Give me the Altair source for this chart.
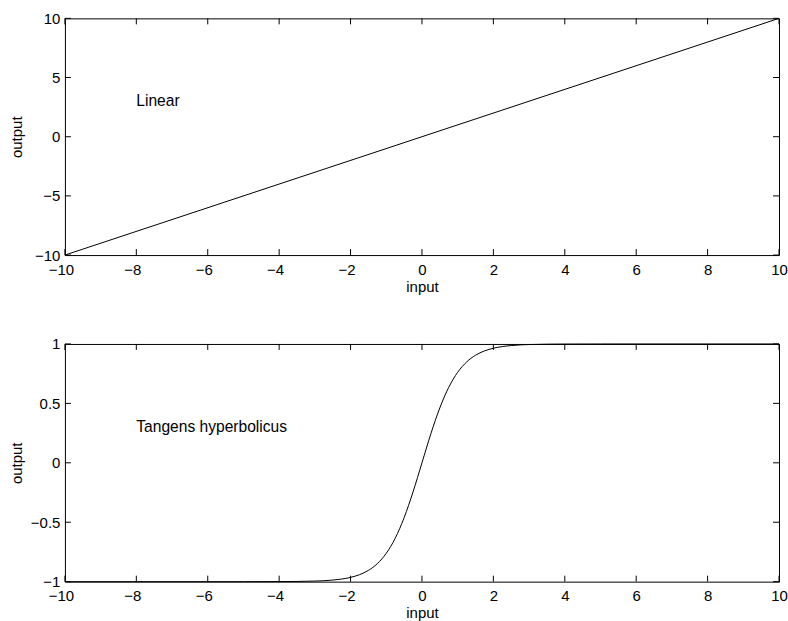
import altair as alt
import pandas as pd

# Linear transfer function
lin_x = [-10, 10]
lin_y = [-10, 10]

# Hyperbolic tangent transfer function, sampled
tanh_x = [-10, -8, -6, -5, -4, -3.5, -3, -2.5, -2, -1.75, -1.5, -1.25, -1,
          -0.75, -0.5, -0.25, 0, 0.25, 0.5, 0.75, 1, 1.25, 1.5, 1.75, 2,
          2.5, 3, 3.5, 4, 5, 6, 8, 10]
tanh_y = [-1.0, -1.0, -1.0, -0.9999, -0.9993, -0.9982, -0.9951, -0.9866,
          -0.9640, -0.9414, -0.9051, -0.8483, -0.7616, -0.6351, -0.4621,
          -0.2449, 0.0, 0.2449, 0.4621, 0.6351, 0.7616, 0.8483, 0.9051,
          0.9414, 0.9640, 0.9866, 0.9951, 0.9982, 0.9993, 0.9999, 1.0, 1.0,
          1.0]

# Axis ticks
x_ticks = [-10, -8, -6, -4, -2, 0, 2, 4, 6, 8, 10]
lin_ticks = [-10, -5, 0, 5, 10]
tanh_ticks = [-1, -0.5, 0, 0.5, 1]

# Panel annotations
ann_text = ["Linear", "Tangens hyperbolicus"]
ann_x = [-8, -8]
ann_y = [3, 0.3]

W = 715
FONT = "Liberation Sans"
FS = 15
TICK = 6


def panel(xs, ys, yticks, label, lx, ly, height):
    xscale = alt.Scale(domain=[-10, 10], nice=False, zero=False)
    yscale = alt.Scale(domain=[yticks[0], yticks[-1]], nice=False, zero=False)
    xaxis = alt.Axis(
        values=x_ticks, ticks=False, domain=False, grid=False,
        labelFlush=False, labelPadding=7, format="~r",
        # centre the digits, letting the minus sign hang to the left
        labelOffset={"condition": {"test": "datum.value < 0", "value": -4}, "value": 0},
        title="input", titleY=24, titleBaseline="top",
    )
    yaxis = alt.Axis(
        values=yticks, ticks=False, domain=False, grid=False,
        labelFlush=False, labelPadding=5, format="~r",
        title="output", titleX=-55, titleBaseline="top", titleAngle=-90,
    )
    X = lambda f: alt.X(f, scale=xscale, axis=xaxis)
    Y = lambda f: alt.Y(f, scale=yscale, axis=yaxis)

    curve = alt.Chart(pd.DataFrame({"x": xs, "y": ys})).mark_line(
        color="black", strokeWidth=1, interpolate="monotone"
    ).encode(x=X("x:Q"), y=Y("y:Q"))

    # inward tick marks on all four sides of the frame
    xt = pd.DataFrame({"x": x_ticks})
    yt = pd.DataFrame({"y": yticks})
    rule = dict(color="black", strokeWidth=1)
    xbot = alt.Chart(xt).mark_rule(**rule).encode(
        x=X("x:Q"), y=alt.value(height), y2=alt.value(height - TICK))
    xtop = alt.Chart(xt).mark_rule(**rule).encode(
        x=X("x:Q"), y=alt.value(0), y2=alt.value(TICK))
    yleft = alt.Chart(yt).mark_rule(**rule).encode(
        y=Y("y:Q"), x=alt.value(0), x2=alt.value(TICK))
    yright = alt.Chart(yt).mark_rule(**rule).encode(
        y=Y("y:Q"), x=alt.value(W), x2=alt.value(W - TICK))

    text = alt.Chart(pd.DataFrame({"x": [lx], "y": [ly], "s": [label]})).mark_text(
        align="left", baseline="middle", font=FONT, fontSize=15.6, color="black"
    ).encode(x=X("x:Q"), y=Y("y:Q"), text="s:N")

    return alt.layer(curve, xbot, xtop, yleft, yright, text).properties(
        width=W, height=height
    )


top = panel(lin_x, lin_y, lin_ticks, ann_text[0], ann_x[0], ann_y[0], 237)
bottom = panel(tanh_x, tanh_y, tanh_ticks, ann_text[1], ann_x[1], ann_y[1], 238)

chart = alt.vconcat(top, bottom, spacing=89, bounds="flush").properties(
    padding={"left": 9, "top": 10, "right": 0, "bottom": 0}
).configure(
    font=FONT,
    background="white",
).configure_view(
    stroke="black", strokeWidth=1,
).configure_axis(
    labelFont=FONT, labelFontSize=FS, labelColor="black",
    titleFont=FONT, titleFontSize=FS, titleFontWeight="normal", titleColor="black",
)

chart.save("out.html", embed_options={"renderer": "svg", "actions": False})
